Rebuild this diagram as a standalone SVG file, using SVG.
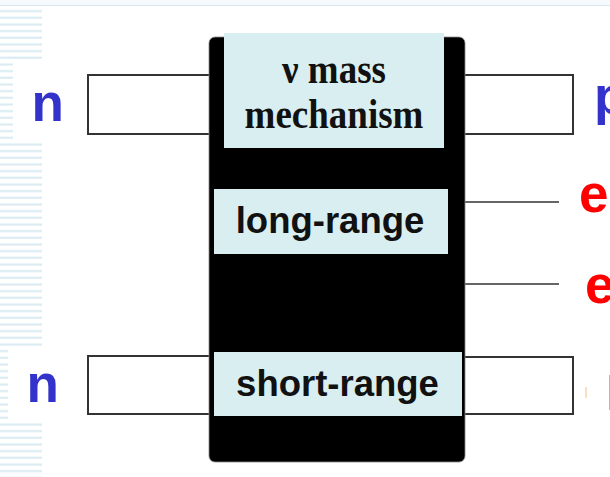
<svg xmlns="http://www.w3.org/2000/svg" width="610" height="477" viewBox="0 0 610 477">
<defs>
<pattern id="stripes" x="0" y="0" width="42" height="6.667" patternUnits="userSpaceOnUse">
<rect x="0" y="0" width="42" height="6.667" fill="#ffffff"/>
<rect x="0" y="3.5" width="42" height="1.2" fill="#d2eaf2"/>
<rect x="0" y="4.7" width="42" height="1" fill="#e6eef6"/>
</pattern>
<style>
.wire{fill:#ffffff;stroke:#333333;stroke-width:2}
.lead{stroke:#333333;stroke-width:1.5;fill:none}
.panel{fill:#d9eef0}
.sans{font-family:"Liberation Sans",Arial,sans-serif;font-weight:bold}
.serif{font-family:"Liberation Serif","Times New Roman",serif;font-weight:bold}
.blue{fill:#3333cc}
.red{fill:#ff0000}
</style>
</defs>
<rect width="610" height="477" fill="#ffffff"/>
<!-- background decoration -->
<rect x="0" y="0" width="610" height="5" fill="#f6fafd"/>
<rect x="0" y="5" width="610" height="1" fill="#dde6f0"/>
<rect x="0" y="6" width="42" height="471" fill="url(#stripes)"/>
<rect x="13" y="63" width="29" height="79" fill="#ffffff"/>
<rect x="8" y="348" width="34" height="75" fill="#ffffff"/>

<g id="connectors">
<rect class="wire" x="88" y="75" width="124" height="59"/>
<rect class="wire" x="88" y="356" width="124" height="58"/>
<rect class="wire" x="463" y="75" width="110" height="59"/>
<rect class="wire" x="463" y="357" width="110" height="57"/>
<line class="lead" x1="463" y1="202" x2="559" y2="202"/>
<line class="lead" x1="463" y1="284" x2="559" y2="284"/>
</g>

<g id="vertex">
<rect x="209" y="37" width="256" height="425" rx="6" ry="6" fill="#000000" stroke="#888888" stroke-width="0.8"/>
</g>

<g id="mass-mechanism">
<rect class="panel" x="224" y="33" width="220" height="115"/>
<text class="serif" transform="translate(334,83) scale(1,1.15)" font-size="37" text-anchor="middle" fill="#111111">ν mass</text>
<text class="serif" transform="translate(334,128) scale(1,1.15)" font-size="37" text-anchor="middle" fill="#111111">mechanism</text>
</g>

<g id="long-range">
<rect class="panel" x="214" y="189" width="234" height="65"/>
<text class="sans" x="330" y="233" font-size="36.5" text-anchor="middle" fill="#111111">long-range</text>
</g>

<g id="short-range">
<rect class="panel" x="214" y="352" width="248" height="64"/>
<text class="sans" x="337.5" y="396" font-size="36.5" text-anchor="middle" fill="#111111">short-range</text>
</g>

<g id="n-top"><text class="sans blue" x="31.5" y="121" font-size="53">n</text></g>
<g id="n-bottom"><text class="sans blue" x="26.5" y="402" font-size="53">n</text></g>
<g id="p-top"><text class="sans blue" x="594" y="114" font-size="53">p</text></g>
<g id="e-top"><text class="sans red" x="579" y="212" font-size="53">e</text></g>
<g id="e-bottom"><text class="sans red" x="585" y="303" font-size="53">e</text></g>
<line x1="586" y1="387" x2="586" y2="398" stroke="#f0c080" stroke-width="1"/>
<line x1="609.5" y1="375" x2="609.5" y2="410" stroke="#b0b0ee" stroke-width="1"/>
</svg>
